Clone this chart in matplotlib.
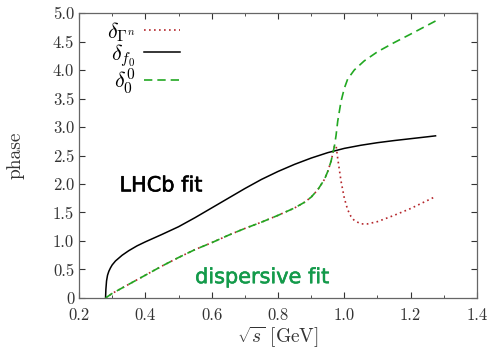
import matplotlib
matplotlib.use("Agg")
import matplotlib.pyplot as plt
import matplotlib.patheffects as pe
from matplotlib.ticker import MultipleLocator, FuncFormatter

plt.rcParams["font.family"] = "serif"
plt.rcParams["font.serif"] = ["cmr10", "DejaVu Serif"]
plt.rcParams["mathtext.fontset"] = "cm"
plt.rcParams["axes.formatter.use_mathtext"] = True

# LHCb fit phase (delta_f0)
x_f0 = [0.28, 0.281, 0.283, 0.286, 0.29, 0.295, 0.30, 0.31, 0.32, 0.33, 0.35,
        0.375, 0.40, 0.45, 0.50, 0.55, 0.60, 0.65, 0.70, 0.75, 0.80, 0.85, 0.90,
        0.95, 1.00, 1.05, 1.10, 1.15, 1.20, 1.25, 1.275]
y_f0 = [0.0, 0.15, 0.30, 0.40, 0.47, 0.53, 0.58, 0.65, 0.70, 0.75, 0.83,
        0.915, 0.985, 1.115, 1.25, 1.41, 1.58, 1.75, 1.92, 2.08, 2.22, 2.345, 2.455,
        2.55, 2.625, 2.68, 2.725, 2.762, 2.795, 2.828, 2.845]

# dispersive fit phase (delta_0^0)
x_d00 = [0.28, 0.30, 0.35, 0.40, 0.45, 0.50, 0.55, 0.60, 0.65, 0.70, 0.75, 0.80,
         0.85, 0.88, 0.90, 0.92, 0.94, 0.95, 0.96, 0.97, 0.975, 0.98, 0.99, 1.00,
         1.01, 1.03, 1.06, 1.10, 1.15, 1.20, 1.275]
y_d00 = [0.0, 0.08, 0.24, 0.40, 0.56, 0.71, 0.85, 0.97, 1.10, 1.22, 1.33, 1.45,
         1.58, 1.68, 1.77, 1.90, 2.08, 2.22, 2.40, 2.66, 2.85, 3.10, 3.45, 3.68,
         3.84, 4.00, 4.16, 4.32, 4.48, 4.63, 4.86]

# delta_Gamma^n phase
x_gn = [0.28, 0.30, 0.35, 0.40, 0.45, 0.50, 0.55, 0.60, 0.65, 0.70, 0.75, 0.80,
        0.85, 0.88, 0.90, 0.92, 0.94, 0.95, 0.96, 0.97, 0.975, 0.98, 0.99, 1.00,
        1.01, 1.02, 1.03, 1.05, 1.07, 1.10, 1.15, 1.20, 1.275]
y_gn = [0.0, 0.08, 0.24, 0.40, 0.56, 0.71, 0.85, 0.97, 1.10, 1.22, 1.33, 1.45,
        1.58, 1.68, 1.77, 1.90, 2.08, 2.22, 2.40, 2.66, 2.68, 2.45, 2.05, 1.75,
        1.55, 1.43, 1.36, 1.30, 1.30, 1.34, 1.45, 1.57, 1.78]

fig = plt.figure(figsize=(4.92, 3.48), dpi=100)
ax = fig.add_axes([0.1606, 0.1437, 0.8089, 0.8189])

ax.plot(x_gn, y_gn, color="#b5262b", lw=1.2, ls=(0, (1, 2)), label=r"$\delta_{\Gamma^n}$")
ax.plot(x_f0, y_f0, color="black", lw=1.1, label=r"$\delta_{f_0}$")
ax.plot(x_d00, y_d00, color="#22a822", lw=1.2, ls=(0, (5, 3)), label=r"$\delta_0^0$")

ax.set_xlim(0.2, 1.4)
ax.set_ylim(0, 5.0)
ax.xaxis.set_major_locator(MultipleLocator(0.2))
ax.xaxis.set_minor_locator(MultipleLocator(0.1))
ax.yaxis.set_major_locator(MultipleLocator(0.5))
ax.xaxis.set_major_formatter(FuncFormatter(lambda v, p: "%.1f" % v))
ax.yaxis.set_major_formatter(FuncFormatter(lambda v, p: "0" if abs(v) < 1e-9 else "%.1f" % v))
ax.tick_params(which="both", direction="in", top=True, right=True, labelsize=12,
               color="#333333", labelcolor="#333333")
ax.tick_params(which="major", length=4)
ax.tick_params(which="minor", length=2)
ax.tick_params(axis="x", which="major", pad=7)
for s in ax.spines.values():
    s.set_color("#666666")
    s.set_linewidth(0.9)

ax.set_xlabel(r"$\sqrt{s}$ [GeV]", fontsize=14, color="#333333", labelpad=1)
ax.set_ylabel("phase", fontsize=14, color="#333333", labelpad=20)

ax.legend(loc="upper left", bbox_to_anchor=(0.07, 0.975), frameon=False, markerfirst=False,
          fontsize=16, handlelength=1.6, handletextpad=0.4, labelspacing=-0.1,
          borderpad=0, borderaxespad=0)

ax.text(0.322, 1.87, "LHCb fit", fontsize=15, family="DejaVu Sans", color="black",
        path_effects=[pe.withStroke(linewidth=0.4, foreground="black")])
ax.text(0.55, 0.26, "dispersive fit", fontsize=15, family="DejaVu Sans", color="#139a4a",
        path_effects=[pe.withStroke(linewidth=0.4, foreground="#139a4a")])

fig.savefig("out.png", dpi=100)
